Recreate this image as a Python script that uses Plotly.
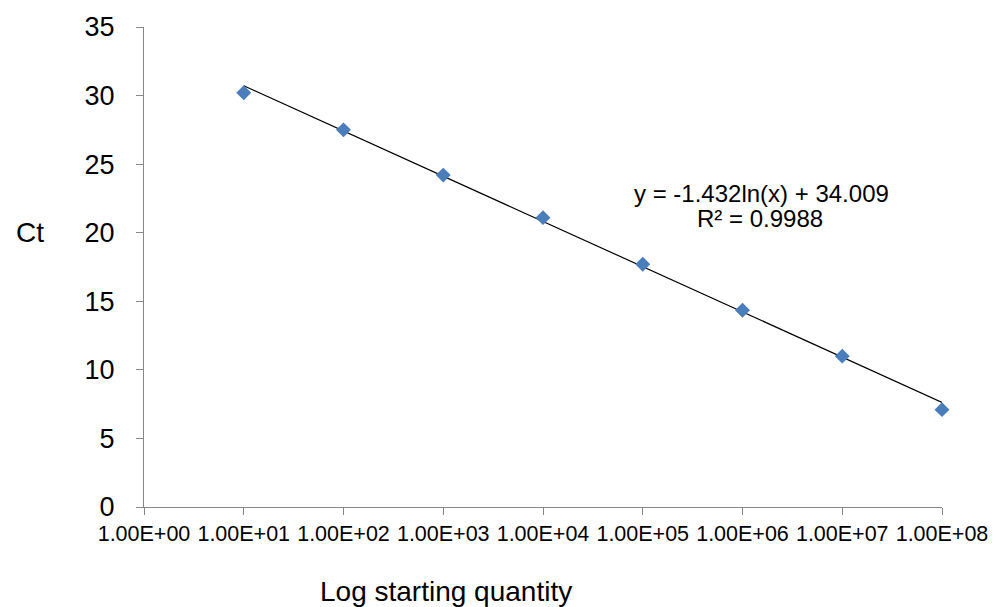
import math
import plotly.graph_objects as go

# Data
quantity = [1e1, 1e2, 1e3, 1e4, 1e5, 1e6, 1e7, 1e8]
ct_values = [30.2, 27.5, 24.2, 21.1, 17.7, 14.35, 11.0, 7.1]

# Logarithmic trendline shown on the chart
slope = -1.432
intercept = 34.009
r_squared = 0.9988

tick_values = [1e0, 1e1, 1e2, 1e3, 1e4, 1e5, 1e6, 1e7, 1e8]
tick_labels = ["1.00E+00", "1.00E+01", "1.00E+02", "1.00E+03", "1.00E+04",
               "1.00E+05", "1.00E+06", "1.00E+07", "1.00E+08"]

trend_x = [quantity[0], quantity[-1]]
trend_y = [slope * math.log(v) + intercept for v in trend_x]

FONT = "Liberation Sans, Arial, sans-serif"
AXIS_COLOR = "#878787"

fig = go.Figure()
fig.add_trace(go.Scatter(
    x=trend_x, y=trend_y, mode="lines",
    line=dict(color="black", width=1.2),
    showlegend=False, hoverinfo="skip", cliponaxis=False,
))
fig.add_trace(go.Scatter(
    x=quantity, y=ct_values, mode="markers",
    marker=dict(symbol="diamond", size=11.5, color="#4A7EBB"),
    showlegend=False, cliponaxis=False,
))

fig.update_layout(
    width=1000, height=607,
    margin=dict(l=144, r=53, t=24, b=100),
    paper_bgcolor="white", plot_bgcolor="white",
    font=dict(family=FONT, color="black"),
    xaxis=dict(
        type="log", range=[0, 8],
        tickmode="array", tickvals=tick_values, ticktext=tick_labels,
        tickfont=dict(size=21.5, family=FONT, color="black"),
        showline=True, linecolor=AXIS_COLOR, linewidth=1,
        ticks="outside", ticklen=7, tickcolor=AXIS_COLOR,
        showgrid=False, zeroline=False,
    ),
    yaxis=dict(
        range=[0, 35], tickmode="linear", tick0=0, dtick=5,
        tickfont=dict(size=27, family=FONT, color="black"),
        showline=True, linecolor=AXIS_COLOR, linewidth=1,
        ticks="outside", ticklen=7, tickcolor=AXIS_COLOR,
        ticklabelstandoff=16,
        showgrid=False, zeroline=False,
    ),
    annotations=[
        dict(text="Log starting quantity", xref="paper", yref="paper",
             x=(448 - 144) / 803, y=(507 - 592) / 483,
             xanchor="center", yanchor="middle", showarrow=False,
             font=dict(size=28, family=FONT, color="black")),
        dict(text="Ct", xref="paper", yref="paper",
             x=(29 - 144) / 803, y=(507 - 231) / 483,
             xanchor="center", yanchor="middle", showarrow=False,
             font=dict(size=28, family=FONT, color="black")),
        dict(text=f"y = {slope:.3f}ln(x) + {intercept:.3f}", xref="paper", yref="paper",
             x=(765 - 144) / 803, y=(507 - 192) / 483,
             xanchor="center", yanchor="middle", showarrow=False,
             font=dict(size=24, family=FONT, color="black")),
        dict(text=f"R² = {r_squared}", xref="paper", yref="paper",
             x=(764 - 144) / 803, y=(507 - 217) / 483,
             xanchor="center", yanchor="middle", showarrow=False,
             font=dict(size=24, family=FONT, color="black")),
    ],
)

fig.write_html("out.html")
